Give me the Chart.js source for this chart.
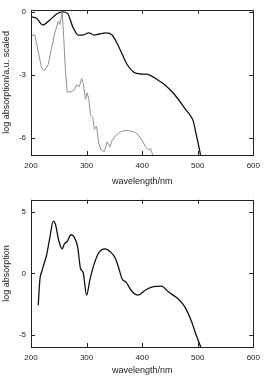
<!DOCTYPE html>
<html>
<head>
<meta charset="utf-8">
<script src="https://cdn.jsdelivr.net/npm/chart.js@4/dist/chart.umd.min.js"></script>
<style>
    html, body { margin: 0; padding: 0; background: #fff; }
    .box { position: absolute; left: 0; width: 266px; }
    #top-box { top: 0; height: 190px; }
    #bot-box { top: 190px; height: 186px; }
</style>
</head>
<body>
<div class="box" id="top-box"><canvas id="top-chart"></canvas></div>
<div class="box" id="bot-box"><canvas id="bot-chart"></canvas></div>
<script>
// Top panel: scaled spectra (black = smooth, gray = resolved)
const blackWl = [200, 210, 221, 234, 246, 257, 266, 275, 285, 293, 304, 314, 323, 335, 346, 355, 364, 373, 385, 397, 409, 417, 429, 441, 453, 465, 477, 486, 492, 497, 502, 505];
const blackVals = [-0.23, -0.3, -0.62, -0.38, -0.1, 0, -0.08, -0.7, -1.1, -1.1, -1.0, -1.1, -1.05, -1.0, -1.1, -1.5, -2.0, -2.5, -2.87, -2.95, -2.96, -3.05, -3.25, -3.47, -3.77, -4.15, -4.6, -4.9, -5.2, -5.8, -6.4, -6.8];

const grayWl = [201, 207, 213, 219, 224, 231, 237, 243, 249, 252, 255, 256, 259, 262, 265, 272, 278, 282, 287, 291, 294, 298, 301, 304, 307, 311, 314, 318, 322, 326, 332, 337, 342, 346, 352, 361, 370, 379, 388, 394, 400, 406, 412, 415, 419];
const grayVals = [-1.13, -1.09, -1.9, -2.65, -2.8, -2.5, -1.73, -0.98, -0.45, -0.6, -0.15, 0, -1.28, -2.8, -3.8, -3.8, -3.7, -3.47, -3.55, -3.17, -3.4, -4.15, -3.85, -4.15, -4.9, -5.0, -5.58, -5.43, -6.26, -6.56, -6.64, -6.18, -6.41, -6.11, -5.88, -5.7, -5.63, -5.66, -5.73, -5.88, -6.11, -6.41, -6.56, -6.49, -6.79];

// Bottom panel: log absorption
const botWl = [213, 216, 220, 224, 228, 234, 240, 244, 250, 256, 260, 265, 272, 278, 284, 289, 294, 300, 306, 314, 323, 333, 343, 352, 357, 364, 371, 381, 393, 406, 420, 435, 447, 465, 477, 489, 497, 506];
const botVals = [-2.6, -0.5, 0.24, 0.87, 1.48, 2.94, 4.26, 4.0, 2.67, 2.0, 2.4, 2.6, 3.15, 2.94, 2.14, 0.42, 0.03, -1.77, -0.5, 0.82, 1.75, 2.0, 1.75, 1.22, 0.56, -0.45, -0.71, -1.43, -1.77, -1.35, -1.08, -1.03, -1.5, -2.09, -2.75, -3.94, -5.0, -6.06];

const xTicks = [200, 300, 400, 500, 600];
const topYTicks = [-6, -3, 0];
const botYTicks = [-5, 0, 5];

const fontFamily = "'Liberation Sans', Arial, sans-serif";
const inkColor = '#222';

function toPoints(xs, ys) {
    return xs.map((x, i) => ({ x: x, y: ys[i] }));
}

// gnuplot style frame with inward tick marks on all sides
const frameTicks = {
    id: 'frameTicks',
    afterDatasetsDraw(chart) {
        const { ctx, chartArea: a, scales } = chart;
        const len = 4;
        ctx.save();
        ctx.strokeStyle = inkColor;
        ctx.lineWidth = 1;
        ctx.strokeRect(Math.round(a.left) + 0.5, Math.round(a.top) + 0.5,
            Math.round(a.right - a.left), Math.round(a.bottom - a.top));
        ctx.beginPath();
        scales.x.ticks.forEach(t => {
            const px = Math.round(scales.x.getPixelForValue(t.value)) + 0.5;
            ctx.moveTo(px, a.bottom); ctx.lineTo(px, a.bottom - len);
            ctx.moveTo(px, a.top); ctx.lineTo(px, a.top + len);
        });
        scales.y.ticks.forEach(t => {
            const py = Math.round(scales.y.getPixelForValue(t.value)) + 0.5;
            ctx.moveTo(a.left, py); ctx.lineTo(a.left + len, py);
            ctx.moveTo(a.right, py); ctx.lineTo(a.right - len, py);
        });
        ctx.stroke();
        ctx.restore();
    }
};

function makeOptions(cfg) {
    return {
        responsive: true,
        maintainAspectRatio: false,
        animation: false,
        layout: { padding: { top: cfg.padTop, right: 10, left: 0, bottom: 0 } },
        plugins: { legend: { display: false }, tooltip: { enabled: false } },
        elements: { point: { radius: 0 } },
        scales: {
            x: {
                type: 'linear',
                min: 200,
                max: 600,
                afterBuildTicks: s => { s.ticks = xTicks.map(v => ({ value: v })); },
                afterFit: s => { s.height = cfg.xHeight; },
                grid: { display: false, drawTicks: false },
                border: { display: false },
                ticks: { color: inkColor, padding: 6, maxRotation: 0, font: { family: fontFamily, size: 8 } },
                title: {
                    display: true,
                    text: 'wavelength/nm',
                    color: inkColor,
                    padding: { top: 0, bottom: cfg.titlePad },
                    font: { family: fontFamily, size: 9 }
                }
            },
            y: {
                min: cfg.yMin,
                max: cfg.yMax,
                afterBuildTicks: s => { s.ticks = cfg.yTicks.map(v => ({ value: v })); },
                afterFit: s => { s.width = 31; },
                grid: { display: false, drawTicks: false },
                border: { display: false },
                ticks: { color: inkColor, padding: 5, font: { family: fontFamily, size: 8 } },
                title: {
                    display: true,
                    text: cfg.yTitle,
                    color: inkColor,
                    padding: { top: 1, bottom: 0 },
                    font: { family: fontFamily, size: 9 }
                }
            }
        }
    };
}

new Chart(document.getElementById('top-chart'), {
    type: 'line',
    data: {
        datasets: [
            {
                data: toPoints(grayWl, grayVals),
                borderColor: '#909090',
                borderWidth: 1,
                tension: 0
            },
            {
                data: toPoints(blackWl, blackVals),
                borderColor: '#111',
                borderWidth: 1.3,
                cubicInterpolationMode: 'monotone'
            }
        ]
    },
    options: makeOptions({
        padTop: 3, xHeight: 35, titlePad: 3,
        yMin: -6.8, yMax: 0.1, yTicks: topYTicks,
        yTitle: 'log absorption/a.u. scaled'
    }),
    plugins: [frameTicks]
});

new Chart(document.getElementById('bot-chart'), {
    type: 'line',
    data: {
        datasets: [{
            data: toPoints(botWl, botVals),
            borderColor: '#111',
            borderWidth: 1.3,
            cubicInterpolationMode: 'monotone'
        }]
    },
    options: makeOptions({
        padTop: 5, xHeight: 29, titlePad: 0,
        yMin: -6, yMax: 6, yTicks: botYTicks,
        yTitle: 'log absorption'
    }),
    plugins: [frameTicks]
});
</script>
</body>
</html>
